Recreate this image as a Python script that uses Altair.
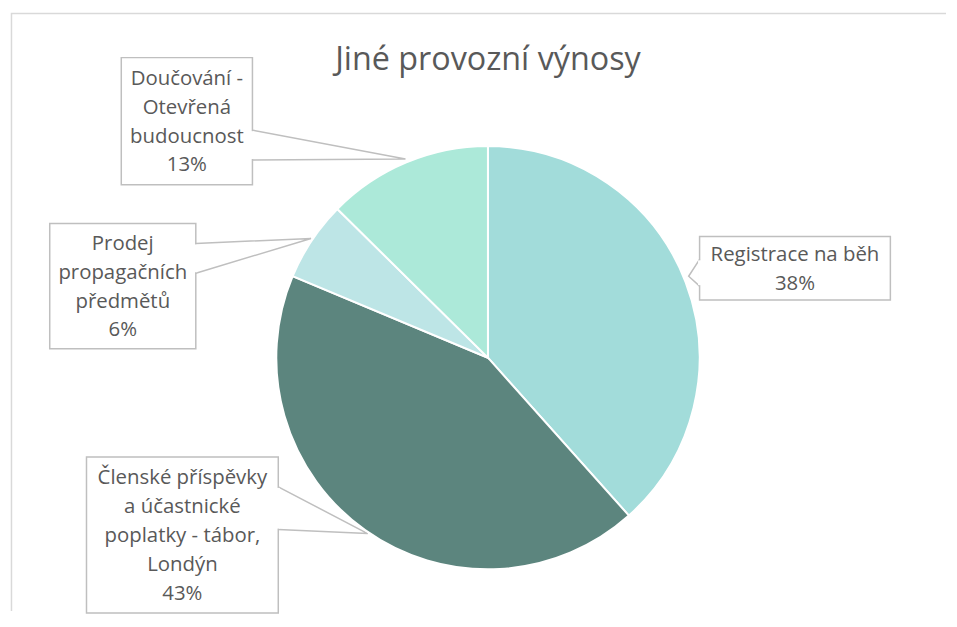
import altair as alt
import pandas as pd

# ---- data ----
categories = ["Registrace na běh",
              "Členské příspěvky a účastnické poplatky - tábor, Londýn",
              "Prodej propagačních předmětů",
              "Doučování - Otevřená budoucnost"]
values = [38.4, 42.9, 6.1, 12.6]
pct_labels = ["38%", "43%", "6%", "13%"]
label_lines = [["Registrace na běh"],
               ["Členské příspěvky", "a účastnické", "poplatky - tábor,", "Londýn"],
               ["Prodej", "propagačních", "předmětů"],
               ["Doučování -", "Otevřená", "budoucnost"]]
colors = ["#A2DCDA", "#5C857E", "#BDE5E6", "#ACE9D9"]
chart_title = "Jiné provozní výnosy"

# ---- layout (page pixel coordinates) ----
W, H = 941, 604
X0, Y0 = 8, 8
center = (488, 357)
radius = 213
LH = 29
boxes = [
    (701, 235, 893, 299, 701, 258, 285, 690, 275),
    (84, 457, 277, 614, 277, 487, 530, 367, 534),
    (47, 222, 194, 348, 194, 242, 272, 310, 237),
    (119, 55, 251, 183, 251, 128, 158, 405, 157),
]

xs = dict(domain=[X0, X0 + W], nice=False, zero=False)
ys = dict(domain=[Y0 + H, Y0], nice=False, zero=False)

pie_df = pd.DataFrame({"cat": categories, "value": values,
                       "k": list(range(len(categories)))})

pie = alt.Chart(pie_df).mark_arc(outerRadius=radius, stroke="white",
                                 strokeWidth=2).encode(
    theta=alt.Theta("value:Q", stack=True),
    color=alt.Color("cat:N", scale=alt.Scale(domain=categories, range=colors),
                    legend=None),
    order=alt.Order("k:Q"),
    x=alt.value(center[0] - X0),
    y=alt.value(center[1] - Y0),
)

rows = []
for i, b in enumerate(boxes):
    lines = label_lines[i] + [pct_labels[i]]
    cy = (b[1] + b[3]) / 2
    rows.append({"x1": b[0], "y1": b[1], "x2": b[2], "y2": b[3],
                 "cx": (b[0] + b[2]) / 2,
                 "ty": cy - (len(lines) - 1) * LH / 2 + 1,
                 "txt": "\n".join(lines)})
box_df = pd.DataFrame(rows)

rects = alt.Chart(box_df).mark_rect(fill="white", stroke="#BFBFBF",
                                    strokeWidth=1.5).encode(
    x=alt.X("x1:Q", scale=alt.Scale(**xs), axis=None), x2="x2:Q",
    y=alt.Y("y1:Q", scale=alt.Scale(**ys), axis=None), y2="y2:Q",
)

gap_df = pd.DataFrame([{"x": b[4], "ya": b[5] + 1, "yb": b[6] - 1} for b in boxes])
gaps = alt.Chart(gap_df).mark_rule(color="white", strokeWidth=3).encode(
    x=alt.X("x:Q"), y=alt.Y("ya:Q"), y2="yb:Q")

line_rows = []
for i, b in enumerate(boxes):
    line_rows += [{"id": i, "x": b[4], "y": b[5], "o": 0},
                  {"id": i, "x": b[7], "y": b[8], "o": 1},
                  {"id": i, "x": b[4], "y": b[6], "o": 2}]
callouts = alt.Chart(pd.DataFrame(line_rows)).mark_line(
    color="#BFBFBF", strokeWidth=1.5).encode(
    x=alt.X("x:Q"), y=alt.Y("y:Q"),
    detail="id:N", order="o:Q")

texts = alt.Chart(box_df).mark_text(font="Open Sans", fontSize=20.5,
                                    color="#595959", lineHeight=LH,
                                    lineBreak="\n",
                                    align="center", baseline="middle").encode(
    x=alt.X("cx:Q"), y=alt.Y("ty:Q"), text="txt:N")

title = alt.Chart(pd.DataFrame({"t": [chart_title], "x": [488], "y": [67]})).mark_text(
    font="Open Sans", fontSize=32.5, color="#595959", align="center",
    baseline="alphabetic").encode(
    x=alt.X("x:Q"), y=alt.Y("y:Q"), text="t:N")

frame_df = pd.DataFrame({"x": [X0 + W, 8.5, 8.5], "y": [10.5, 10.5, Y0 + H],
                         "o": [0, 1, 2]})
frame = alt.Chart(frame_df).mark_line(color="#D9D9D9", strokeWidth=1.5).encode(
    x=alt.X("x:Q"), y=alt.Y("y:Q"), order="o:Q")

chart = alt.layer(rects, frame, callouts, gaps, texts, title, pie).properties(
    width=W, height=H, padding=0,
).configure_view(strokeWidth=0)

chart.save("out.html", embed_options={"renderer": "svg", "actions": False})
